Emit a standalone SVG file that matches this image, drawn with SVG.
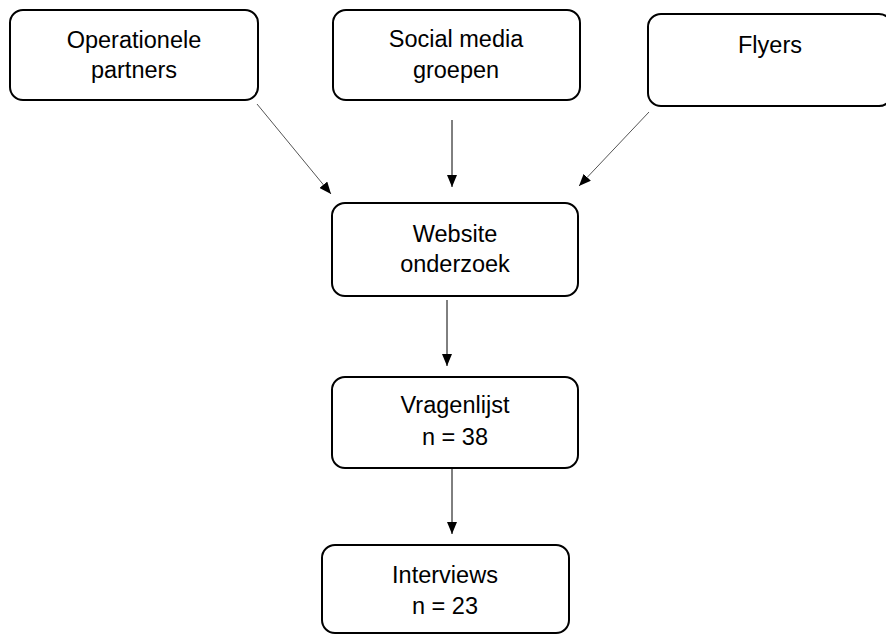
<svg xmlns="http://www.w3.org/2000/svg" width="886" height="635" viewBox="0 0 886 635">
<defs>
<marker id="ah" markerWidth="12" markerHeight="10" refX="12" refY="5" orient="auto" markerUnits="userSpaceOnUse">
<path d="M0,0 L12,5 L0,10 Z" fill="#000"/>
</marker>
<style>
.box{fill:#fff;stroke:#000;stroke-width:2}
.t{font-family:"Liberation Sans",Arial,sans-serif;font-size:23.5px;fill:#000;text-anchor:middle}
.c{stroke:#000;stroke-width:1;fill:none;marker-end:url(#ah)}
.d{stroke:#555}
</style>
</defs>
<rect width="886" height="635" fill="#fff"/>
<g id="n-operationele">
<rect class="box" x="10" y="10" width="248" height="90" rx="13"/>
<text class="t" x="134" y="48">Operationele</text>
<text class="t" x="134" y="78">partners</text>
</g>
<g id="n-social">
<rect class="box" x="333" y="10" width="247" height="90" rx="13"/>
<text class="t" x="456" y="47">Social media</text>
<text class="t" x="456" y="78">groepen</text>
</g>
<g id="n-flyers">
<rect class="box" x="648" y="14" width="244" height="92" rx="13"/>
<text class="t" x="770" y="53">Flyers</text>
</g>
<g id="n-website">
<rect class="box" x="332" y="203" width="246" height="93" rx="13"/>
<text class="t" x="455" y="242">Website</text>
<text class="t" x="455" y="272">onderzoek</text>
</g>
<g id="n-vragenlijst">
<rect class="box" x="332" y="377" width="246" height="91" rx="13"/>
<text class="t" x="455" y="413">Vragenlijst</text>
<text class="t" x="455" y="445">n = 38</text>
</g>
<g id="n-interviews">
<rect class="box" x="322" y="545" width="247" height="88" rx="13"/>
<text class="t" x="445" y="583">Interviews</text>
<text class="t" x="445" y="614">n = 23</text>
</g>
<g id="connectors">
<line class="c d" x1="257" y1="104" x2="331" y2="194"/>
<line class="c" x1="452" y1="120" x2="452" y2="187"/>
<line class="c d" x1="649" y1="112" x2="579" y2="186"/>
<line class="c" x1="447" y1="300" x2="447" y2="366"/>
<line class="c" x1="452" y1="468" x2="452" y2="534"/>
</g>
</svg>
